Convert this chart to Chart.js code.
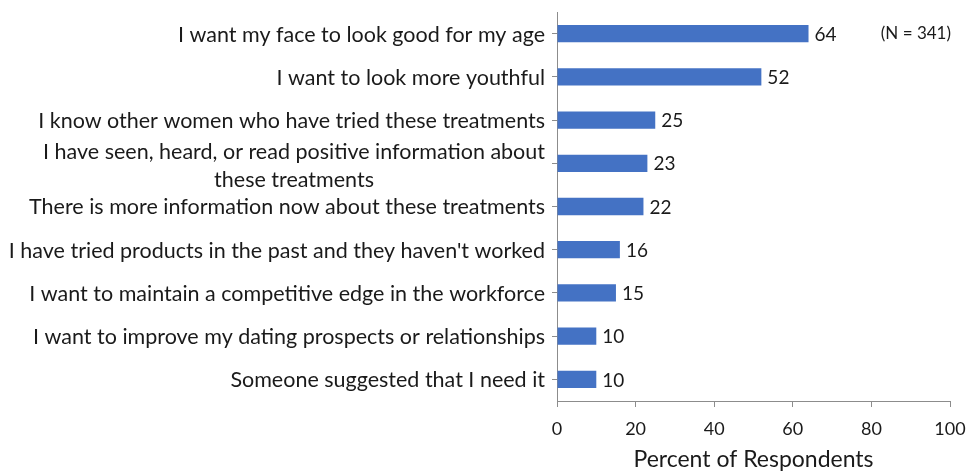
<!DOCTYPE html>
<html>
<head>
<meta charset="utf-8">
<script src="https://cdn.jsdelivr.net/npm/chart.js@4/dist/chart.umd.min.js"></script>
<style>
  html, body { margin: 0; padding: 0; background: #fff; }
  #wrap { width: 968px; height: 473px; }
</style>
</head>
<body>
<div id="wrap"><canvas id="my-chart"></canvas></div>
<script>
const reasons = [
  "I want my face to look good for my age",
  "I want to look more youthful",
  "I know other women who have tried these treatments",
  ["I have seen, heard, or read positive information about", "these treatments"],
  "There is more information now about these treatments",
  "I have tried products in the past and they haven't worked",
  "I want to maintain a competitive edge in the workforce",
  "I want to improve my dating prospects or relationships",
  "Someone suggested that I need it"
];
const percents = [64, 52, 25, 23, 22, 16, 15, 10, 10];
const xTicks = [0, 20, 40, 60, 80, 100];
const sampleNote = "(N = 341)";
const axisTitle = "Percent of Respondents";

const FONT = "Lato, 'Open Sans', sans-serif";
const TEXT = "#1a1a1a";

// draws category labels (centered 2nd line) + value labels + N note
const textPlugin = {
  id: "textPlugin",
  afterDraw(chart) {
    const ctx = chart.ctx;
    const yScale = chart.scales.y;
    const meta = chart.getDatasetMeta(0);
    ctx.save();
    ctx.fillStyle = TEXT;
    ctx.textBaseline = "middle";

    ctx.font = "21.5px " + FONT;
    reasons.forEach((lab, i) => {
      const y = yScale.getPixelForValue(i) + 1;
      const x = yScale.right - 12;
      if (Array.isArray(lab)) {
        const lh = 28;
        const w0 = ctx.measureText(lab[0]).width;
        const top = y - (lab.length - 1) * lh / 2 + 2;
        lab.forEach((line, j) => {
          if (j === 0) {
            ctx.textAlign = "right";
            ctx.fillText(line, x, top);
          } else {
            ctx.textAlign = "center";
            ctx.fillText(line, x - w0 / 2, top + j * lh);
          }
        });
      } else {
        ctx.textAlign = "right";
        ctx.fillText(lab, x, y);
      }
    });

    ctx.font = "19px " + FONT;
    ctx.textAlign = "left";
    meta.data.forEach((bar, i) => {
      ctx.fillText(percents[i], bar.x + 6, bar.y + 1);
    });

    ctx.font = "17px " + FONT;
    ctx.textAlign = "right";
    ctx.fillText(sampleNote, chart.chartArea.right + 1, meta.data[0].y);
    ctx.restore();
  }
};

const ctx = document.getElementById("my-chart").getContext("2d");
const chart = new Chart(ctx, {
  type: "bar",
  data: {
    labels: reasons,
    datasets: [
      {
        label: axisTitle,
        data: percents,
        backgroundColor: "#4472C4",
        borderWidth: 0,
        categoryPercentage: 1,
        barPercentage: 0.4,
      },
    ],
  },
  options: {
    indexAxis: "y",
    responsive: true,
    maintainAspectRatio: false,
    animation: false,
    layout: { padding: { left: 0, right: 18, top: 12, bottom: 0 } },
    plugins: {
      legend: { display: false },
      tooltip: { enabled: false },
    },
    scales: {
      x: {
        min: 0,
        max: 100,
        afterBuildTicks: (scale) => {
          scale.ticks = xTicks.map((v) => ({ value: v }));
        },
        afterFit: (scale) => {
          scale.height = 72;
          scale.paddingRight = 0;
          scale.paddingLeft = 0;
        },
        grid: { drawOnChartArea: false, tickLength: 6, color: "#8c8c8c" },
        border: { color: "#8c8c8c", width: 1 },
        ticks: { color: TEXT, font: { family: FONT, size: 18 }, padding: 11, maxRotation: 0 },
        title: {
          display: true,
          text: axisTitle,
          color: TEXT,
          font: { family: FONT, size: 23 },
          padding: { top: 8, bottom: 0 },
        },
      },
      y: {
        afterFit: (scale) => { scale.width = 557; },
        grid: { drawOnChartArea: false, offset: false, tickLength: 5, color: "#8c8c8c" },
        border: { color: "#8c8c8c", width: 1 },
        ticks: { color: "rgba(0,0,0,0)", autoSkip: false, font: { family: FONT, size: 10 } },
      },
    },
  },
  plugins: [textPlugin],
});
</script>
</body>
</html>
